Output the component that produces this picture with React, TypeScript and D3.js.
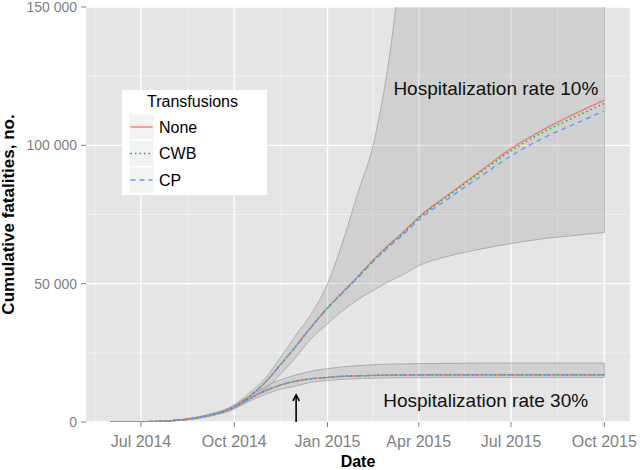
import * as d3 from 'd3';
import * as React from 'react';

// model output (cumulative deaths)
const dates = [
  '2014-06-01', '2014-07-01', '2014-08-01', '2014-09-01', '2014-10-01', '2014-10-15',
  '2014-11-01', '2014-11-15', '2014-12-01', '2014-12-15', '2015-01-01', '2015-01-15',
  '2015-02-01', '2015-02-15', '2015-03-01', '2015-03-15', '2015-04-01', '2015-05-01',
  '2015-06-01', '2015-07-01', '2015-08-01', '2015-09-01', '2015-10-01'
];

// hospitalization rate 10%
const none10 = [0, 100, 500, 2000, 5500, 9000, 14500, 20500, 27500, 34000, 41300, 46600,
  53000, 58500, 63500, 68000, 74000, 82400, 90800, 98800, 105500, 111200, 116300];
const cwb10 = [0, 100, 500, 2000, 5500, 9000, 14500, 20500, 27500, 34000, 41300, 46500,
  52900, 58300, 63300, 67800, 73700, 82000, 90200, 98000, 104600, 110100, 115100];
const cp10 = [0, 100, 500, 2000, 5500, 9000, 14500, 20400, 27400, 33800, 41100, 46300,
  52600, 57900, 62800, 67200, 73000, 81000, 88800, 96200, 102500, 107600, 112400];
const low10 = [0, 80, 400, 1700, 4800, 7800, 12000, 17000, 23500, 29800, 35500, 40000,
  44500, 47500, 50500, 53000, 56500, 60000, 62500, 64500, 66200, 67400, 68500];
const high10 = [0, 120, 600, 2300, 6200, 10200, 16000, 23000, 31500, 38500, 50000, 64000,
  84000, 100000, 127000, 165000, 200000, 240000, 260000, 275000, 285000, 292000, 298000];

// hospitalization rate 30%
const none30 = [0, 100, 500, 2000, 5400, 8300, 11300, 13300, 14800, 15600, 16100, 16500,
  16700, 16850, 16950, 17000, 17050, 17100, 17100, 17100, 17100, 17100, 17100];
const cwb30 = [0, 100, 500, 2000, 5400, 8300, 11300, 13300, 14800, 15600, 16100, 16500,
  16700, 16850, 16950, 17000, 17050, 17080, 17080, 17080, 17080, 17080, 17080];
const cp30 = [0, 100, 500, 2000, 5400, 8300, 11300, 13300, 14800, 15600, 16100, 16450,
  16650, 16800, 16900, 16950, 17000, 17030, 17030, 17030, 17030, 17030, 17030];
const low30 = [0, 80, 400, 1700, 4800, 7400, 10000, 11800, 13000, 14300, 15000, 15400,
  15700, 15850, 15950, 16000, 16050, 16100, 16100, 16100, 16100, 16100, 16100];
const high30 = [0, 120, 600, 2300, 6000, 9200, 12800, 15200, 17000, 18300, 19300, 19900,
  20400, 20700, 20900, 21000, 21100, 21200, 21300, 21300, 21300, 21300, 21300];

const transfusions = ['None', 'CWB', 'CP'];
const lineColors = ['#F8766D', '#00BA38', '#619CFF'];
const lineDash = ['', '1.5,3', '5,4'];

const xTicks = ['2014-07-01', '2014-10-01', '2015-01-01', '2015-04-01', '2015-07-01', '2015-10-01'];
const yTicks = [0, 50000, 100000, 150000];
const yMinor = [25000, 75000, 125000];

const arrowDate = '2014-12-01';
const arrowTop = 9800;

const labels = [
  { text: 'Hospitalization rate 10%', date: '2015-06-16', value: 120600 },
  { text: 'Hospitalization rate 30%', date: '2015-06-06', value: 7800 }
];

const parse = d3.timeParse('%Y-%m-%d');
const font = '"Liberation Sans", Arial, Helvetica, sans-serif';

export default function App() {
  const width = 640;
  const height = 470;
  const left = 86, right = 630, top = 7, bottom = 422;

  const x = d3.scaleTime()
    .domain([new Date(2014, 4, 7, 18), new Date(2015, 9, 26, 8)])
    .range([left, right]);
  const y = d3.scaleLinear().domain([0, 150000]).range([bottom, top]);

  const t = dates.map(d => parse(d) as Date);
  const ticks = xTicks.map(d => parse(d) as Date);

  // minor breaks halfway between majors (one extra break before the first)
  const majors = [new Date(2014, 3, 1), ...ticks];
  const xMinor = d3.pairs(majors)
    .map(([a, b]) => new Date((a.getTime() + b.getTime()) / 2))
    .filter(d => x(d) > left && x(d) < right);

  const area = (lo: number[], hi: number[]) =>
    d3.area<number>()
      .curve(d3.curveMonotoneX)
      .x(i => x(t[i]))
      .y0(i => y(lo[i]))
      .y1(i => y(hi[i]))(d3.range(t.length)) || '';

  const line = (vals: number[]) =>
    d3.line<number>()
      .curve(d3.curveMonotoneX)
      .x(i => x(t[i]))
      .y(i => y(vals[i]))(d3.range(t.length)) || '';

  const groups = [
    { lo: low10, hi: high10, lines: [none10, cwb10, cp10] },
    { lo: low30, hi: high30, lines: [none30, cwb30, cp30] }
  ];

  const fmt = (v: number) => d3.format(',')(v).replace(/,/g, ' ');
  const fmtDate = d3.timeFormat('%b %Y');

  const ax = x(parse(arrowDate) as Date);
  const ay0 = y(0);
  const ay1 = y(arrowTop);

  const legX = 122, legY = 90;

  return (
    <svg width={width} height={height} style={{ position: 'absolute', left: 0, top: 0, background: '#fff' }}
      fontFamily={font}>
      <defs>
        <clipPath id="panel">
          <rect x={left} y={top} width={right - left} height={bottom - top} />
        </clipPath>
      </defs>

      <rect x={left} y={top} width={right - left} height={bottom - top} fill="#E5E5E5" />

      {yMinor.map(v => (
        <line key={'ym' + v} x1={left} x2={right} y1={y(v)} y2={y(v)} stroke="#F2F2F2" strokeWidth={0.8} />
      ))}
      {xMinor.map(d => (
        <line key={'xm' + d.getTime()} x1={x(d)} x2={x(d)} y1={top} y2={bottom} stroke="#F2F2F2" strokeWidth={0.8} />
      ))}
      {yTicks.map(v => (
        <line key={'yg' + v} x1={left} x2={right} y1={y(v)} y2={y(v)} stroke="#fff" strokeWidth={1.3} />
      ))}
      {ticks.map(d => (
        <line key={'xg' + d.getTime()} x1={x(d)} x2={x(d)} y1={top} y2={bottom} stroke="#fff" strokeWidth={1.3} />
      ))}

      <g clipPath="url(#panel)">
        {groups.map((g, gi) => (
          <path key={'rib' + gi} d={area(g.lo, g.hi)} fill="#7F7F7F" fillOpacity={0.2}
            stroke="#A8A8A8" strokeWidth={0.9} />
        ))}
        {groups.map((g, gi) => g.lines.map((vals, li) => (
          <path key={'ln' + gi + li} d={line(vals)} fill="none" stroke={lineColors[li]}
            strokeWidth={1.4} strokeDasharray={lineDash[li] || undefined} />
        )))}
      </g>

      {labels.map(l => (
        <text key={l.text} x={x(parse(l.date) as Date)} y={y(l.value)} textAnchor="middle"
          dominantBaseline="central" fontSize={19} fill="#111">{l.text}</text>
      ))}

      <g stroke="#000" strokeWidth={1.6} fill="none">
        <line x1={ax} x2={ax} y1={ay0} y2={ay1} />
        <path d={`M${ax - 3.2},${ay1 + 6} L${ax},${ay1} L${ax + 3.2},${ay1 + 6}`} />
      </g>

      {/* y axis */}
      {yTicks.map(v => (
        <g key={'yt' + v}>
          <line x1={left - 5} x2={left} y1={y(v)} y2={y(v)} stroke="#7F7F7F" strokeWidth={1} />
          <text x={left - 9} y={y(v)} textAnchor="end" dominantBaseline="central" fontSize={14} fill="#7F7F7F">
            {fmt(v)}
          </text>
        </g>
      ))}
      {/* x axis */}
      {ticks.map(d => (
        <g key={'xt' + d.getTime()}>
          <line x1={x(d)} x2={x(d)} y1={bottom} y2={bottom + 5} stroke="#7F7F7F" strokeWidth={1} />
          <text x={x(d)} y={446.5} textAnchor="middle" fontSize={16} fill="#7F7F7F">{fmtDate(d)}</text>
        </g>
      ))}

      <text x={(left + right) / 2} y={467} textAnchor="middle" fontSize={16} fontWeight="bold">Date</text>
      <text transform={`translate(14,${(top + bottom) / 2}) rotate(-90)`} textAnchor="middle"
        fontSize={17} fontWeight="bold">Cumulative fatalities, no.</text>

      {/* legend */}
      <g>
        <rect x={legX} y={legY} width={145} height={105} fill="#fff" />
        <text x={147} y={106.5} fontSize={16}>Transfusions</text>
        {transfusions.map((name, i) => {
          const ky = 114.5 + i * 26.5;
          return (
            <g key={name}>
              <rect x={129.5} y={ky} width={24} height={25} fill="#F2F2F2" />
              <line x1={130.5} x2={152.5} y1={ky + 12.5} y2={ky + 12.5} stroke={lineColors[i]}
                strokeWidth={1.4} strokeDasharray={lineDash[i] || undefined} />
              <text x={159} y={ky + 12.5} dominantBaseline="central" fontSize={16}>{name}</text>
            </g>
          );
        })}
      </g>
    </svg>
  );
}
